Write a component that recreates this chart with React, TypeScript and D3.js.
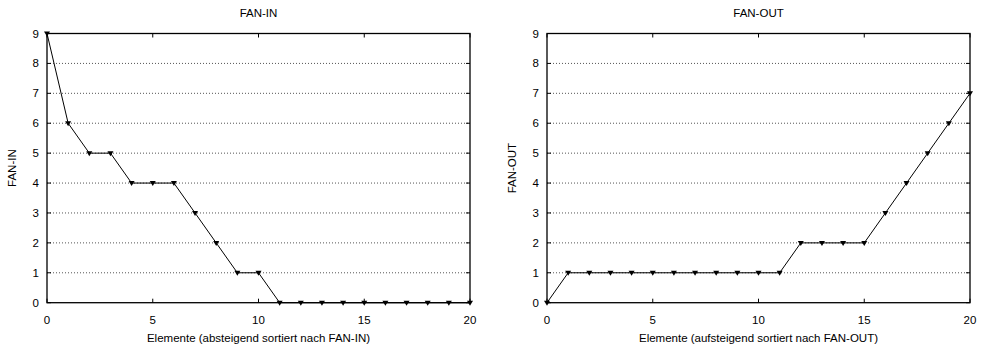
import React, { useEffect, useRef } from 'react';
import * as d3 from 'd3';

const fanIn = [9, 6, 5, 5, 4, 4, 4, 3, 2, 1, 1, 0, 0, 0, 0, 0, 0, 0, 0, 0, 0];
const fanOut = [0, 1, 1, 1, 1, 1, 1, 1, 1, 1, 1, 1, 2, 2, 2, 2, 3, 4, 5, 6, 7];
const xTicks = [0, 5, 10, 15, 20];
const yTicks = [0, 1, 2, 3, 4, 5, 6, 7, 8, 9];

const panels = [
  { title: 'FAN-IN', yLabel: 'FAN-IN', xLabel: 'Elemente (absteigend sortiert nach FAN-IN)', data: fanIn, left: 47, right: 470 },
  { title: 'FAN-OUT', yLabel: 'FAN-OUT', xLabel: 'Elemente (aufsteigend sortiert nach FAN-OUT)', data: fanOut, left: 547, right: 970 },
];

const App = () => {
  const svgRef = useRef<SVGSVGElement>(null);

  useEffect(() => {
    const svg = d3.select(svgRef.current);
    svg.selectAll('*').remove();
    const top = 33.5, bottom = 302.7;
    const font = 'Liberation Sans, Arial, sans-serif';
    const fs = 11.5;

    panels.forEach(p => {
      const x = d3.scaleLinear().domain([0, 20]).range([p.left, p.right]);
      const y = d3.scaleLinear().domain([0, 9]).range([bottom, top]);
      const g = svg.append('g');

      // grid
      g.selectAll('.grid')
        .data(yTicks.filter(t => t > 0 && t < 9))
        .enter().append('line')
        .attr('x1', p.left).attr('x2', p.right)
        .attr('y1', d => y(d)).attr('y2', d => y(d))
        .attr('stroke', '#555').attr('stroke-width', 1)
        .attr('stroke-dasharray', '1,2');

      // ticks
      yTicks.forEach(t => {
        g.append('line').attr('x1', p.left).attr('x2', p.left + 4).attr('y1', y(t)).attr('y2', y(t)).attr('stroke', '#000');
        g.append('line').attr('x1', p.right).attr('x2', p.right - 4).attr('y1', y(t)).attr('y2', y(t)).attr('stroke', '#000');
        g.append('text').attr('x', p.left - 8).attr('y', y(t) + 4)
          .attr('text-anchor', 'end').attr('font-size', fs).attr('font-family', font).text(t);
      });
      xTicks.forEach(t => {
        g.append('line').attr('x1', x(t)).attr('x2', x(t)).attr('y1', bottom).attr('y2', bottom - 4).attr('stroke', '#000');
        g.append('line').attr('x1', x(t)).attr('x2', x(t)).attr('y1', top).attr('y2', top + 4).attr('stroke', '#000');
        g.append('text').attr('x', x(t)).attr('y', bottom + 21)
          .attr('text-anchor', 'middle').attr('font-size', fs).attr('font-family', font).text(t);
      });

      // frame
      g.append('rect').attr('x', p.left).attr('y', top)
        .attr('width', p.right - p.left).attr('height', bottom - top)
        .attr('fill', 'none').attr('stroke', '#000').attr('stroke-width', 1.3);

      // line
      const line = d3.line<number>().x((d, i) => x(i)).y(d => y(d));
      g.append('path').datum(p.data).attr('d', line)
        .attr('fill', 'none').attr('stroke', '#000').attr('stroke-width', 1);

      // markers (down triangles)
      g.selectAll('.mk').data(p.data).enter().append('path')
        .attr('d', (d, i) => {
          const cx = x(i), cy = y(d);
          return `M${cx - 3},${cy - 2}L${cx + 3},${cy - 2}L${cx},${cy + 3}Z`;
        })
        .attr('fill', '#000');

      const cx = (p.left + p.right) / 2;
      g.append('text').attr('x', cx).attr('y', 17).attr('text-anchor', 'middle')
        .attr('font-size', fs).attr('font-family', font).text(p.title);
      g.append('text').attr('x', cx).attr('y', 342).attr('text-anchor', 'middle')
        .attr('font-size', fs).attr('font-family', font).text(p.xLabel);
      g.append('text')
        .attr('transform', `translate(${p.left - 31},${(top + bottom) / 2}) rotate(-90)`)
        .attr('text-anchor', 'middle').attr('font-size', fs).attr('font-family', font).text(p.yLabel);
    });
  }, []);

  return (
    <svg ref={svgRef} width={983} height={351}
      style={{ position: 'absolute', left: 0, top: 0, background: '#fff' }} />
  );
};

export default App;
